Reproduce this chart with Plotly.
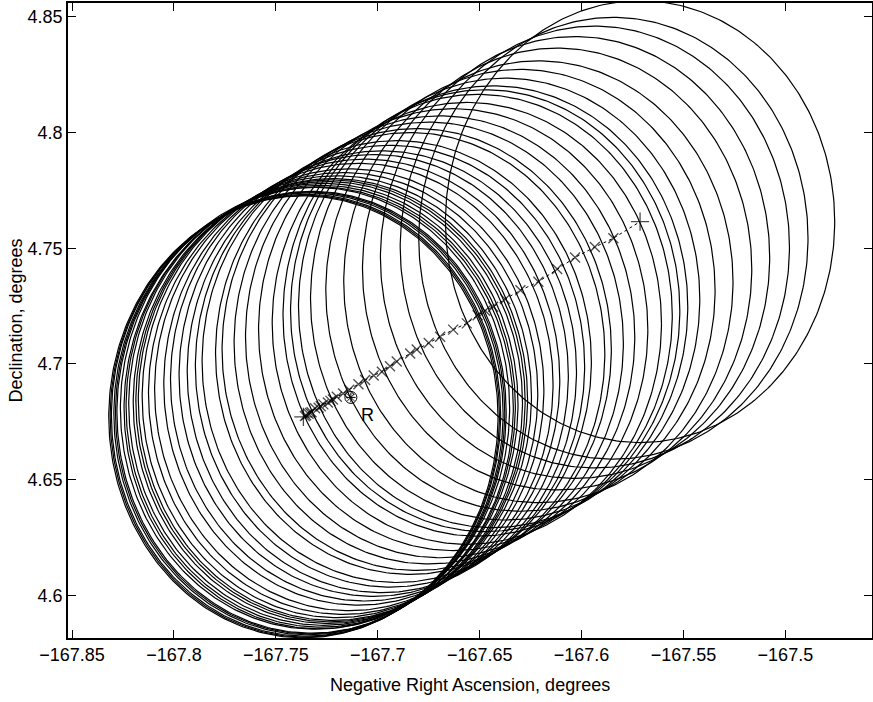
import numpy as np
import plotly.graph_objects as go

# Circle (footprint) centres along the track, degrees
center_ra = [-167.7365, -167.7358, -167.7352, -167.7340, -167.7332, -167.7325,
             -167.7308, -167.7290, -167.7280, -167.7267, -167.7245, -167.7232,
             -167.7220, -167.7201, -167.7170, -167.7140, -167.7095, -167.7062,
             -167.7020, -167.6980, -167.6940, -167.6907, -167.6841, -167.6809,
             -167.6750, -167.6694, -167.6630, -167.6563, -167.6510, -167.6473,
             -167.6434, -167.6375, -167.6300, -167.6212, -167.6120, -167.6032,
             -167.5935, -167.5844, -167.5713]
center_dec = [4.6771, 4.6774, 4.6778, 4.6784, 4.6788, 4.6791,
              4.6808, 4.6810, 4.6817, 4.6825, 4.6833, 4.6840,
              4.6846, 4.6858, 4.6872, 4.6888, 4.6912, 4.6930,
              4.6950, 4.6966, 4.6990, 4.7010, 4.7045, 4.7062,
              4.7090, 4.7117, 4.7148, 4.7175, 4.7210, 4.7230,
              4.7247, 4.7280, 4.7318, 4.7355, 4.7410, 4.7460,
              4.7505, 4.7543, 4.7615]
radius_deg = 0.0955

# Reference point R
ref_ra = [-167.7132]
ref_dec = [4.6855]
ref_label = ["R"]

x_ticks = [-167.85, -167.8, -167.75, -167.7, -167.65, -167.6, -167.55, -167.5]
x_tick_text = ["\u2212167.85", "\u2212167.8", "\u2212167.75", "\u2212167.7",
               "\u2212167.65", "\u2212167.6", "\u2212167.55", "\u2212167.5"]
y_ticks = [4.6, 4.65, 4.7, 4.75, 4.8, 4.85]
y_tick_text = ["4.6", "4.65", "4.7", "4.75", "4.8", "4.85"]

FONT = "Liberation Sans, Arial, Helvetica, sans-serif"

theta = np.linspace(0, 2 * np.pi, 361)
cx, cy = [], []
for ra, dec in zip(center_ra, center_dec):
    cx.extend((ra + radius_deg * np.cos(theta)).tolist() + [None])
    cy.extend((dec + radius_deg * np.sin(theta)).tolist() + [None])

fig = go.Figure()
fig.add_trace(go.Scatter(x=cx, y=cy, mode="lines",
                         line=dict(color="black", width=1.2),
                         hoverinfo="skip", showlegend=False))
# track
n = len(center_ra)
symbols = ["cross-thin"] + ["x-thin"] * (n - 2) + ["cross-thin"]
sizes = [13] + [10] * (n - 2) + [13]
fig.add_trace(go.Scatter(x=center_ra, y=center_dec, mode="lines+markers",
                         line=dict(color="black", width=1, dash="dot"),
                         marker=dict(symbol=symbols, size=sizes, color="black",
                                     line=dict(color="black", width=1.3)),
                         showlegend=False))
# R marker
fig.add_trace(go.Scatter(x=ref_ra, y=ref_dec, mode="markers",
                         marker=dict(symbol="circle", size=12, color="rgba(0,0,0,0)",
                                     line=dict(color="black", width=1)),
                         showlegend=False))
fig.add_trace(go.Scatter(x=ref_ra, y=ref_dec, mode="markers",
                         marker=dict(symbol="asterisk-open", size=8, color="black",
                                     line=dict(color="black", width=1)),
                         showlegend=False))
fig.add_annotation(x=ref_ra[0], y=ref_dec[0], text=ref_label[0], showarrow=False,
                   xanchor="left", yanchor="top", xshift=8, yshift=-6,
                   font=dict(family=FONT, size=18, color="black"))

fig.add_annotation(x=0.5, y=0, xref="paper", yref="paper",
                   text="Negative Right Ascension, degrees", showarrow=False,
                   xanchor="center", yanchor="middle", yshift=-47,
                   font=dict(family=FONT, size=18, color="black"))
fig.add_annotation(x=0, y=0.5, xref="paper", yref="paper",
                   text="Declination, degrees", showarrow=False, textangle=-90,
                   xanchor="center", yanchor="middle", xshift=-53,
                   font=dict(family=FONT, size=18, color="black"))

axis_common = dict(showgrid=False, zeroline=False, showline=True, linecolor="black",
                   linewidth=1.5, mirror="ticks", ticks="inside", ticklen=8,
                   tickwidth=1, tickcolor="black", automargin=False,
                   tickfont=dict(family=FONT, size=18, color="black"))
fig.update_xaxes(range=[-167.852, -167.4575], tickmode="array",
                 tickvals=x_ticks, ticktext=x_tick_text, **axis_common)
fig.update_yaxes(range=[4.5815, 4.856], tickmode="array",
                 tickvals=y_ticks, ticktext=y_tick_text, **axis_common)

fig.update_layout(width=873, height=702,
                  margin=dict(l=68, r=1, t=3, b=64, autoexpand=False),
                  plot_bgcolor="white", paper_bgcolor="white",
                  font=dict(family=FONT, size=18, color="black"))

fig.write_html("out.html", config={"responsive": False, "displayModeBar": False},
               post_script="document.body.style.margin='0px';"
                           "document.body.style.overflow='hidden';")
